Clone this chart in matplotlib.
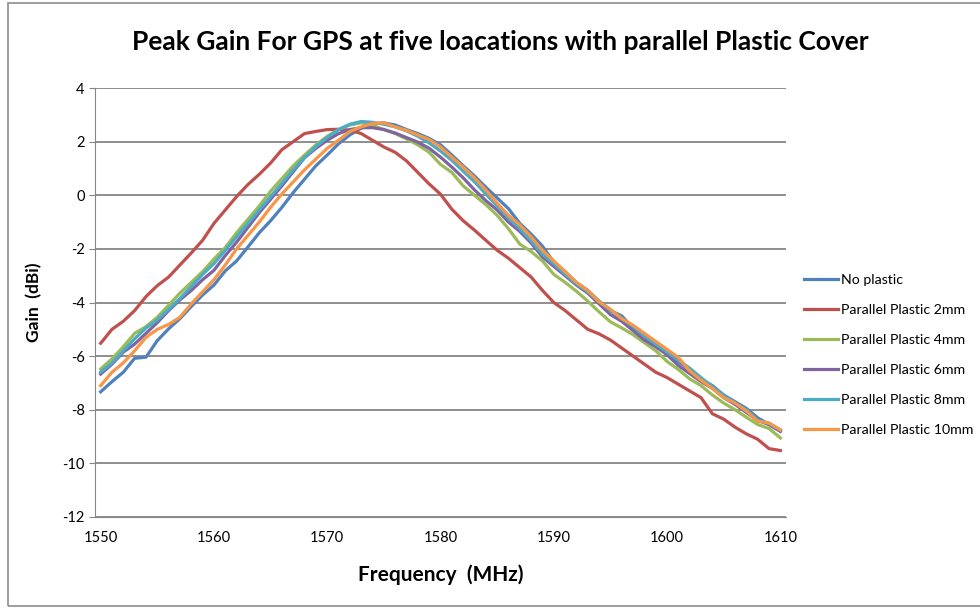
import numpy as np
import matplotlib
matplotlib.use("Agg")
import matplotlib.pyplot as plt
from matplotlib.patches import Rectangle

plt.rcParams['font.family'] = ['Lato', 'DejaVu Sans']
plt.rcParams['axes.unicode_minus'] = False

# frequency points, one per MHz
freq = np.arange(1550, 1611)

no_plastic = [-7.33, -6.95, -6.6, -6.08, -6.04, -5.42, -4.98, -4.6, -4.15, -3.72,
              -3.35, -2.82, -2.45, -1.93, -1.4, -0.95, -0.45, 0.1, 0.6, 1.1,
              1.5, 1.92, 2.25, 2.5, 2.65, 2.7, 2.62, 2.45, 2.3, 2.12,
              1.88, 1.5, 1.1, 0.72, 0.3, -0.1, -0.5, -1.05, -1.45, -1.9,
              -2.5, -2.85, -3.25, -3.55, -3.95, -4.3, -4.5, -4.95, -5.25, -5.6,
              -5.9, -6.2, -6.5, -6.85, -7.1, -7.45, -7.7, -7.95, -8.3, -8.55, -8.8]
plastic_2mm = [-5.52, -5.0, -4.7, -4.3, -3.78, -3.37, -3.05, -2.6, -2.15, -1.68,
               -1.05, -0.55, -0.05, 0.4, 0.78, 1.2, 1.7, 2.0, 2.3, 2.38,
               2.45, 2.46, 2.43, 2.3, 2.05, 1.8, 1.6, 1.28, 0.85, 0.42,
               0.04, -0.52, -0.95, -1.3, -1.68, -2.05, -2.35, -2.7, -3.05, -3.55,
               -4.0, -4.3, -4.65, -5.0, -5.17, -5.4, -5.7, -6.0, -6.3, -6.6,
               -6.8, -7.05, -7.3, -7.55, -8.15, -8.35, -8.65, -8.9, -9.1, -9.45, -9.52]
plastic_4mm = [-6.48, -6.1, -5.65, -5.15, -4.9, -4.55, -4.1, -3.65, -3.25, -2.85,
               -2.38, -1.95, -1.4, -0.9, -0.4, 0.15, 0.62, 1.1, 1.5, 1.88,
               2.2, 2.45, 2.62, 2.7, 2.6, 2.45, 2.3, 2.1, 1.88, 1.6,
               1.15, 0.85, 0.35, 0.0, -0.35, -0.75, -1.25, -1.82, -2.1, -2.45,
               -2.95, -3.25, -3.58, -3.95, -4.35, -4.72, -4.95, -5.2, -5.5, -5.8,
               -6.2, -6.5, -6.85, -7.1, -7.45, -7.75, -8.0, -8.28, -8.55, -8.7, -9.05]
plastic_6mm = [-6.67, -6.3, -5.85, -5.55, -5.15, -4.75, -4.3, -3.9, -3.55, -3.15,
               -2.8, -2.25, -1.75, -1.2, -0.65, -0.15, 0.35, 0.88, 1.4, 1.75,
               2.05, 2.3, 2.45, 2.52, 2.52, 2.45, 2.32, 2.15, 1.98, 1.75,
               1.42, 1.05, 0.65, 0.2, -0.2, -0.55, -1.0, -1.35, -1.78, -2.3,
               -2.65, -3.0, -3.35, -3.65, -4.05, -4.45, -4.7, -5.05, -5.4, -5.65,
               -5.95, -6.35, -6.65, -6.95, -7.2, -7.55, -7.8, -8.1, -8.4, -8.55, -8.8]
plastic_8mm = [-6.6, -6.25, -5.8, -5.35, -4.95, -4.65, -4.25, -3.85, -3.4, -2.95,
               -2.55, -2.05, -1.55, -1.05, -0.55, -0.05, 0.45, 0.95, 1.4, 1.82,
               2.15, 2.45, 2.65, 2.75, 2.72, 2.65, 2.55, 2.4, 2.2, 1.95,
               1.65, 1.3, 0.9, 0.5, 0.05, -0.4, -0.85, -1.25, -1.7, -2.2,
               -2.55, -2.95, -3.3, -3.6, -3.95, -4.3, -4.6, -4.9, -5.25, -5.55,
               -5.85, -6.15, -6.45, -6.8, -7.15, -7.45, -7.75, -8.0, -8.4, -8.5, -8.75]
plastic_10mm = [-7.1, -6.6, -6.25, -5.8, -5.3, -5.0, -4.82, -4.55, -4.05, -3.6,
                -3.15, -2.6, -2.0, -1.5, -1.0, -0.45, 0.05, 0.5, 0.95, 1.35,
                1.75, 2.05, 2.38, 2.55, 2.68, 2.7, 2.55, 2.42, 2.25, 2.08,
                1.8, 1.42, 1.05, 0.65, 0.2, -0.3, -0.75, -1.1, -1.55, -2.05,
                -2.45, -2.85, -3.25, -3.55, -3.98, -4.25, -4.6, -4.85, -5.15, -5.45,
                -5.75, -6.05, -6.55, -6.9, -7.2, -7.55, -7.75, -8.05, -8.42, -8.5, -8.75]

labels = ["No plastic", "Parallel Plastic 2mm", "Parallel Plastic 4mm",
          "Parallel Plastic 6mm", "Parallel Plastic 8mm", "Parallel Plastic 10mm"]
colors = ["#4F81BD", "#C0504D", "#9BBB59", "#8064A2", "#4BACC6", "#F79646"]
series = [no_plastic, plastic_2mm, plastic_4mm, plastic_6mm, plastic_8mm, plastic_10mm]

fig = plt.figure(figsize=(9.8, 6.1), dpi=100)
# chart border
fig.patches.append(Rectangle((8 / 980, 4 / 610), 1.0, 603 / 610, transform=fig.transFigure,
                             fill=False, edgecolor="#8c8c8c", linewidth=1.2))

axes = fig.add_axes([95 / 980, 1 - 517 / 610, 691 / 980, 429 / 610])
for vals, lab, col in zip(series, labels, colors):
    axes.plot(freq, vals, color=col, linewidth=2.3, label=lab, solid_joinstyle='round')

axes.set_xlim(1549.5, 1610.5)
axes.set_ylim(-12, 4)
axes.set_xticks(np.arange(1550, 1611, 10))
axes.set_yticks(np.arange(-12, 5, 2))
axes.grid(axis='y', color="#868686", linewidth=1.3)
axes.set_axisbelow(True)
for side in ['top', 'right']:
    axes.spines[side].set_visible(False)
axes.spines['left'].set_color("#868686")
axes.spines['bottom'].set_color("#868686")
axes.tick_params(axis='y', length=4, color="#868686", labelsize=10.5)
axes.tick_params(axis='x', length=0, labelsize=10.5, pad=10)

axes.set_xlabel("Frequency  (MHz)", fontsize=15, fontweight='bold', labelpad=14)
axes.set_ylabel("Gain  (dBi)", fontsize=12.5, fontweight='bold', labelpad=14)
fig.text(500 / 980, 1 - 42 / 610, "Peak Gain For GPS at five loacations with parallel Plastic Cover",
         fontsize=19, fontweight='bold', ha='center', va='center')

fig.legend(loc='center left', bbox_to_anchor=(804 / 980, 1 - 355 / 610), frameon=False,
           fontsize=10.2, handlelength=2.4, handletextpad=0.2, labelspacing=1.28,
           borderpad=0, borderaxespad=0)

plt.savefig("out.png", dpi=100)
